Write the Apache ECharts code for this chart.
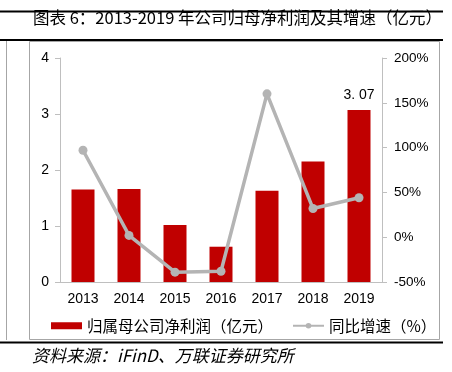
<!DOCTYPE html>
<html>
<head>
<meta charset="utf-8">
<script src="https://cdn.jsdelivr.net/npm/echarts@6/dist/echarts.min.js"></script>
<style>
html,body{margin:0;padding:0;background:#fff;}
#c{width:452px;height:372px;}
</style>
</head>
<body>
<div id="c"></div>
<script>
const categories = ['2013','2014','2015','2016','2017','2018','2019'];
const profit = [1.65, 1.66, 1.02, 0.63, 1.63, 2.15, 3.07];
const growth = [97, 2, -39, -38, 160, 32, 44];
const leftTicks = [0, 1, 2, 3, 4];
const rightTicks = [-50, 0, 50, 100, 150, 200];
const titleText = '图表 6：2013-2019 年公司归母净利润及其增速（亿元）';
const sourceText = '资料来源：iFinD、万联证券研究所';
const barName = '归属母公司净利润（亿元）';
const lineName = '同比增速（%）';

const chart = echarts.init(document.getElementById('c'), null, {renderer:'canvas'});
const cjk = '"Noto Sans CJK SC", sans-serif';
const num = '"Liberation Sans", Arial, sans-serif';
chart.setOption({
  animation:false,
  backgroundColor:'#fff',
  title:{
    text:titleText, left:28, top:4,
    textStyle:{fontFamily:cjk, fontSize:16.5, fontWeight:'normal', color:'#000'}
  },
  graphic:[
    {type:'line', shape:{x1:0,y1:11.5,x2:443,y2:11.5}, style:{stroke:'#000',lineWidth:2}},
    {type:'line', shape:{x1:0,y1:40,x2:443,y2:40}, style:{stroke:'#000',lineWidth:2}},
    {type:'rect', shape:{x:29.5,y:41.5,width:410,height:298}, style:{fill:'none',stroke:'#a6a6a6',lineWidth:1}},
    {type:'line', shape:{x1:6.5,y1:41,x2:6.5,y2:340}, style:{stroke:'#a6a6a6',lineWidth:1}},
    {type:'line', shape:{x1:0,y1:342.5,x2:443,y2:342.5}, style:{stroke:'#000',lineWidth:2}},
    {type:'text', left:32, top:347, style:{text:sourceText, font:'italic 17px "Noto Sans CJK SC", sans-serif', fill:'#000'}}
  ],
  legend:{
    left:46, top:313, itemGap:19, itemWidth:31, itemHeight:7,
    textStyle:{fontFamily:cjk, fontSize:15.5, color:'#000'},
    data:[
      {name:barName, icon:'rect'},
      {name:lineName}
    ]
  },
  grid:{left:60, right:70, top:58, bottom:90},
  xAxis:{
    type:'category', data:categories,
    axisLine:{lineStyle:{color:'#bfbfbf'}},
    axisTick:{show:false},
    axisLabel:{color:'#000', fontFamily:num, fontSize:14, margin:10}
  },
  yAxis:[
    {
      type:'value', min:leftTicks[0], max:leftTicks[leftTicks.length-1], interval:1,
      axisLine:{show:true, lineStyle:{color:'#bfbfbf'}},
      axisTick:{show:true, length:5, lineStyle:{color:'#bfbfbf'}},
      splitLine:{show:false},
      axisLabel:{color:'#000', fontFamily:num, fontSize:14, margin:11}
    },
    {
      type:'value', min:rightTicks[0], max:rightTicks[rightTicks.length-1], interval:50,
      axisLine:{show:true, lineStyle:{color:'#bfbfbf'}},
      axisTick:{show:true, length:5, lineStyle:{color:'#bfbfbf'}},
      splitLine:{show:false},
      axisLabel:{color:'#000', fontFamily:num, fontSize:13.5, margin:12, formatter:'{value}%'}
    }
  ],
  series:[
    {
      name:barName, type:'bar', data:profit, barWidth:'50%',
      itemStyle:{color:'#c00000'},
      label:{show:true, position:'top', color:'#000', fontFamily:num, fontSize:14, distance:8,
        formatter:function(p){ return p.dataIndex === profit.length-1 ? p.value.toFixed(2).replace('.', '. ') : ''; }}
    },
    {
      name:lineName, type:'line', yAxisIndex:1, data:growth,
      symbol:'circle', symbolSize:9,
      lineStyle:{color:'#b4b4b4', width:3.5},
      itemStyle:{color:'#b4b4b4'}
    }
  ]
});
</script>
</body>
</html>
